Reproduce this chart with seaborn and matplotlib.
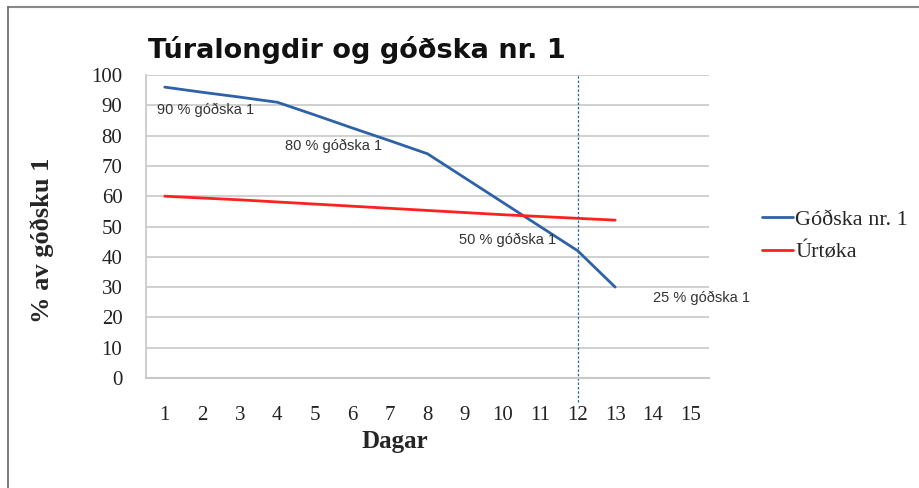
import numpy as np
import pandas as pd
import seaborn as sns
import matplotlib.pyplot as plt
from matplotlib.lines import Line2D

# data
days = list(range(1, 14))
godska = [96, 94.3, 92.7, 91, 86.8, 82.5, 78.3, 74, 66, 58, 50, 42, 30]
urtoka = [60, 59.4, 58.8, 58.1, 57.4, 56.7, 56.0, 55.3, 54.6, 53.9, 53.3, 52.7, 52.1]
series_names = ["Góðska nr. 1", "Úrtøka"]
series_colors = ["#2E62A8", "#FF2020"]
x_ticks = list(range(1, 16))
mark_day = 12

notes = ["90 % góðska 1", "80 % góðska 1", "50 % góðska 1", "25 % góðska 1"]
note_x = [0.78, 4.2, 8.85, 14.0]
note_y = [88.5, 76.5, 45.5, 26.5]

df = pd.DataFrame({
    "Dagar": days * 2,
    "value": godska + urtoka,
    "series": [series_names[0]] * len(days) + [series_names[1]] * len(days),
})

sns.set_theme(style="white")
SERIF = ["Liberation Serif", "DejaVu Serif"]

fig = plt.figure(figsize=(9.19, 4.88), dpi=100)
ax = fig.add_axes([146 / 919, 1 - 378 / 488, (709 - 146) / 919, (378 - 75) / 488])

sns.lineplot(data=df, x="Dagar", y="value", hue="series",
             palette=dict(zip(series_names, series_colors)),
             linewidth=2, ax=ax, legend=False)

ax.set_xlim(0.5, 15.5)
ax.set_ylim(0, 100)
ax.set_yticks(range(0, 101, 10))
ax.set_xticks(x_ticks)
ax.yaxis.grid(True, color="#c8c8c8", linewidth=1.2)
ax.xaxis.grid(False)
for s in ["top", "right"]:
    ax.spines[s].set_visible(False)
ax.spines["left"].set_color("#c8c8c8")
ax.spines["bottom"].set_color("#c8c8c8")
ax.spines["bottom"].set_linewidth(1.5)
ax.tick_params(axis="both", length=0, labelsize=15)
ax.tick_params(axis="x", pad=20)
ax.tick_params(axis="y", pad=17)
for lab in ax.get_xticklabels() + ax.get_yticklabels():
    lab.set_family(SERIF)
    lab.set_color("#222222")

# vertical marker at day 12
ax.vlines(mark_day, -8, 100, colors="#2E62A8", linestyles=(0, (2, 1.5)),
          linewidth=0.9, clip_on=False)

for t, x, y in zip(notes, note_x, note_y):
    ax.text(x, y, t, fontsize=10.5, family="Liberation Sans", color="#333333",
            ha="left", va="center", clip_on=False)

ax.set_xlabel("Dagar", fontsize=18, fontweight="bold", family=SERIF)
ax.xaxis.set_label_coords((395 - 146) / (709 - 146), -(430 - 378) / (378 - 75))
ax.set_ylabel("% av góðsku 1", fontsize=19, fontweight="bold", family=SERIF)
ax.yaxis.set_label_coords(-(146 - 54) / (709 - 146), (378 - 240) / (378 - 75))

fig.text(148 / 919, 1 - 50 / 488, "Túralongdir og góðska nr. 1", fontsize=19.5,
         fontweight="bold", family="DejaVu Sans", ha="left", va="center",
         color="#111111")

handles = [Line2D([0], [0], color=c, linewidth=2) for c in series_colors]
fig.legend(handles, series_names, loc="center left",
           bbox_to_anchor=(742 / 919, 1 - 236 / 488), frameon=False,
           prop={"family": SERIF, "size": 16}, handlelength=1.4,
           handletextpad=0.1, labelspacing=0.55)

# frame lines round the chart
fig.add_artist(Line2D([8 / 919, 1], [1 - 7 / 488, 1 - 7 / 488], color="#888888", linewidth=1.5))
fig.add_artist(Line2D([8 / 919, 8 / 919], [0, 1 - 7 / 488], color="#666666", linewidth=1.2))

fig.savefig("out.png", dpi=100)
